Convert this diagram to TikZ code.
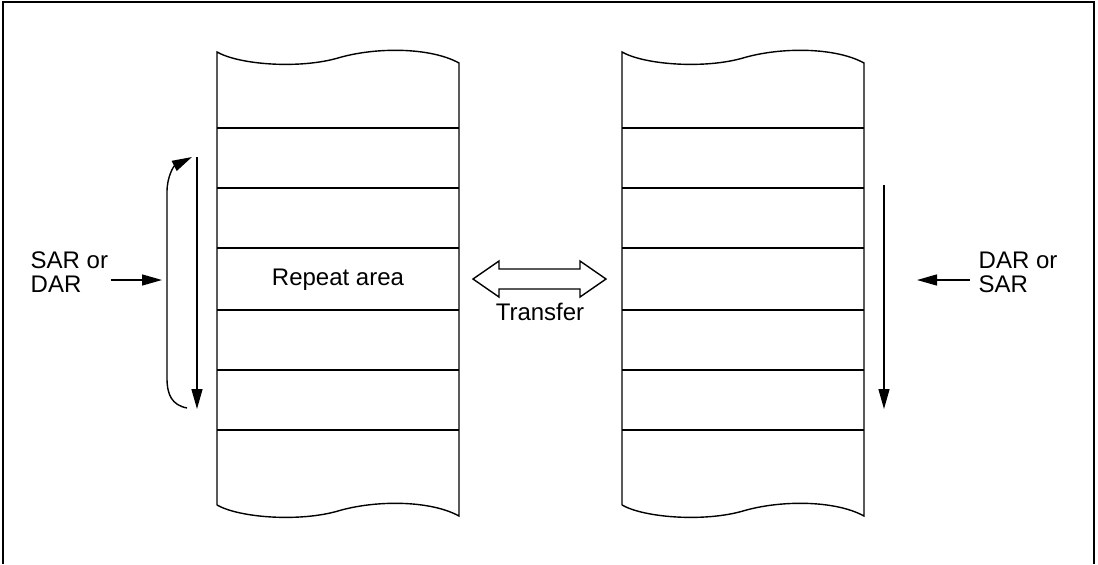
\documentclass[tikz,border=0pt]{standalone}
\usepackage{fontspec}
\setmainfont{Liberation Sans}
\usetikzlibrary{arrows.meta}
\begin{document}
\begin{tikzpicture}[
  x=0.5pt, y=-0.5pt,
  line width=0.7pt,
  lbl/.style={font=\fontsize{12}{12}\selectfont, inner sep=0pt},
  side/.style={lbl, align=left, anchor=west},
  arr/.style={-{Triangle[length=10pt,width=5.5pt]}},
]
  \useasboundingbox (0,0) rectangle (1098,564);
  \draw (3,564) -- (3,2) -- (1094,2) -- (1094,564);

  \foreach \dx in {0,405} {
    \begin{scope}[shift={(\dx,0)}]
      \draw (217,505) -- (217,52)
        .. controls (240,65) and (300,69) .. (338,58)
        .. controls (375,47) and (430,47) .. (459,63)
        -- (459,516)
        .. controls (430,500) and (375,500) .. (338,511)
        .. controls (300,522) and (240,518) .. (217,505);
      \foreach \y in {128,188,248,310,370,430} {
        \draw (217,\y) -- (459,\y);
      }
    \end{scope}
  }

  \node[lbl] (rep) at (338,280) {Repeat area};

  % transfer arrow
  \draw (473,279) -- (499,261) -- (499,269) -- (580,269) -- (580,261) -- (606,279)
    -- (580,297) -- (580,289) -- (499,289) -- (499,297) -- cycle;
  \node[lbl] (xfer) at (540,312) {Transfer};

  % left side
  \node[side] (sarl) at (30,272) {SAR or\\DAR};
  \coordinate (sarin) at (162,280);
  \draw[arr] (sarl.east |- sarin) ++(2,0) -- (sarin);
  \coordinate (ltop) at (197,157);
  \coordinate (lbot) at (197,409);
  \draw[arr] (ltop) -- (lbot);
  \coordinate (lret) at (187,408);
  \coordinate (lhead) at (192,157);
  \draw[arr] (lret) .. controls (172,405) and (167,395) .. (167,378)
    -- (167,192) .. controls (167,176) and (174,166) .. (lhead);

  % right side
  \node[side] (darr) at (978,272) {DAR or\\SAR};
  \coordinate (darin) at (917,280);
  \draw[arr] (darr.west |- darin) ++(-8,0) -- (darin);
  \coordinate (rtop) at (884,185);
  \coordinate (rbot) at (884,409);
  \draw[arr] (rtop) -- (rbot);
\end{tikzpicture}
\end{document}
